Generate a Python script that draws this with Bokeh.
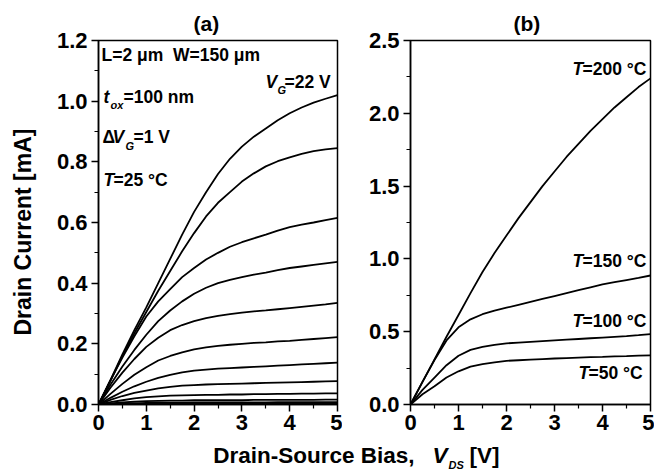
from bokeh.plotting import figure
from bokeh.models import Label, FixedTicker, PrintfTickFormatter, Range1d
from bokeh.layouts import column, row
from bokeh.embed import file_html
from bokeh.resources import INLINE

# ---------------- data ----------------
vds = [0, 0.25, 0.5, 0.75, 1, 1.25, 1.5, 1.75, 2, 2.25, 2.5, 2.75, 3, 3.25, 3.5, 3.75, 4, 4.25, 4.5, 4.75, 5]

# panel (a): output curves at T=25 C, V_G stepped by 1 V (top = 22 V)
id_a1 = [0, 0.080, 0.165, 0.245, 0.320, 0.400, 0.480, 0.560, 0.635, 0.700, 0.760, 0.810, 0.850, 0.883, 0.910, 0.937, 0.960, 0.979, 0.995, 1.008, 1.020]
id_a2 = [0, 0.078, 0.160, 0.235, 0.305, 0.375, 0.440, 0.505, 0.565, 0.620, 0.665, 0.700, 0.735, 0.762, 0.785, 0.802, 0.815, 0.826, 0.835, 0.841, 0.845]
id_a3 = [0, 0.080, 0.155, 0.225, 0.290, 0.340, 0.380, 0.420, 0.450, 0.478, 0.500, 0.520, 0.535, 0.548, 0.560, 0.573, 0.585, 0.593, 0.600, 0.608, 0.615]
id_a4 = [0, 0.065, 0.125, 0.180, 0.230, 0.275, 0.310, 0.340, 0.365, 0.385, 0.400, 0.411, 0.420, 0.428, 0.435, 0.443, 0.450, 0.455, 0.460, 0.465, 0.470]
id_a5 = [0, 0.055, 0.105, 0.150, 0.190, 0.220, 0.245, 0.262, 0.275, 0.285, 0.292, 0.298, 0.303, 0.307, 0.310, 0.314, 0.318, 0.322, 0.326, 0.330, 0.335]
id_a6 = [0, 0.035, 0.068, 0.098, 0.123, 0.145, 0.160, 0.172, 0.182, 0.188, 0.193, 0.197, 0.200, 0.203, 0.205, 0.208, 0.210, 0.213, 0.216, 0.219, 0.222]
id_a7 = [0, 0.022, 0.042, 0.060, 0.075, 0.088, 0.098, 0.106, 0.112, 0.115, 0.118, 0.120, 0.122, 0.124, 0.126, 0.128, 0.130, 0.132, 0.134, 0.136, 0.138]
id_a8 = [0, 0.015, 0.028, 0.038, 0.046, 0.053, 0.058, 0.062, 0.064, 0.066, 0.067, 0.068, 0.069, 0.070, 0.071, 0.072, 0.073, 0.074, 0.075, 0.076, 0.077]
id_a9 = [0, 0.008, 0.014, 0.020, 0.024, 0.027, 0.029, 0.030, 0.031, 0.032, 0.032, 0.033, 0.033, 0.034, 0.034, 0.035, 0.035, 0.036, 0.036, 0.037, 0.037]
id_a10 = [0, 0.004, 0.007, 0.009, 0.011, 0.012, 0.013, 0.013, 0.014, 0.014, 0.014, 0.014, 0.014, 0.015, 0.015, 0.015, 0.015, 0.015, 0.015, 0.016, 0.016]
id_a11 = [0, 0.002, 0.003, 0.004, 0.005, 0.006, 0.006, 0.006, 0.007, 0.007, 0.007, 0.007, 0.007, 0.007, 0.007, 0.008, 0.008, 0.008, 0.008, 0.008, 0.008]
id_a12 = [0, 0.001, 0.001, 0.002, 0.002, 0.002, 0.003, 0.003, 0.003, 0.003, 0.003, 0.003, 0.003, 0.003, 0.003, 0.003, 0.003, 0.003, 0.003, 0.003, 0.003]
curves_a = [id_a1, id_a2, id_a3, id_a4, id_a5, id_a6, id_a7, id_a8, id_a9, id_a10, id_a11, id_a12]

# panel (b): temperature dependence
id_t200 = [0, 0.155, 0.310, 0.465, 0.615, 0.765, 0.910, 1.040, 1.160, 1.280, 1.390, 1.500, 1.600, 1.700, 1.790, 1.880, 1.960, 2.040, 2.110, 2.180, 2.240]
id_t150 = [0, 0.155, 0.305, 0.440, 0.530, 0.585, 0.620, 0.645, 0.665, 0.685, 0.705, 0.725, 0.745, 0.765, 0.785, 0.805, 0.825, 0.840, 0.855, 0.870, 0.886]
id_t100 = [0, 0.100, 0.185, 0.270, 0.335, 0.375, 0.395, 0.410, 0.420, 0.425, 0.430, 0.435, 0.440, 0.445, 0.450, 0.455, 0.460, 0.465, 0.470, 0.476, 0.483]
id_t50 = [0, 0.070, 0.125, 0.185, 0.228, 0.260, 0.278, 0.290, 0.300, 0.304, 0.308, 0.312, 0.316, 0.319, 0.322, 0.325, 0.327, 0.330, 0.332, 0.335, 0.337]
curves_b = [id_t200, id_t150, id_t100, id_t50]

x_ticks = [0, 1, 2, 3, 4, 5]
x_minor = [0.5, 1.5, 2.5, 3.5, 4.5]
ya_ticks = [0.0, 0.2, 0.4, 0.6, 0.8, 1.0, 1.2]
ya_minor = [0.1, 0.3, 0.5, 0.7, 0.9, 1.1]
yb_ticks = [0.0, 0.5, 1.0, 1.5, 2.0, 2.5]
yb_minor = [0.25, 0.75, 1.25, 1.75, 2.25]

FONT = "Liberation Sans"
TICK_SIZE = "22px"
ANN_SIZE = "17.5px"
SUB_SIZE = "11px"
NB = "\u00a0"


def style_axes(p, yt, ym, yfmt):
    p.grid.visible = False
    p.outline_line_color = "black"
    p.outline_line_width = 1.5
    p.outline_line_alpha = 1.0
    p.background_fill_color = "white"
    p.border_fill_color = "white"
    p.xaxis.ticker = FixedTicker(ticks=x_ticks, minor_ticks=x_minor)
    p.yaxis.ticker = FixedTicker(ticks=yt, minor_ticks=ym)
    p.xaxis.formatter = PrintfTickFormatter(format="%d")
    p.yaxis.formatter = PrintfTickFormatter(format=yfmt)
    for ax in (p.xaxis, p.yaxis):
        ax.axis_line_width = 1.5
        ax.axis_line_color = "black"
        ax.major_tick_in = 0
        ax.major_tick_out = 7
        ax.minor_tick_in = 0
        ax.minor_tick_out = 4
        ax.major_tick_line_width = 1.5
        ax.minor_tick_line_width = 1.2
        ax.major_tick_line_color = "black"
        ax.minor_tick_line_color = "black"
        ax.major_label_text_font = FONT
        ax.major_label_text_font_style = "bold"
        ax.major_label_text_font_size = TICK_SIZE
        ax.major_label_text_color = "black"
    p.xaxis.major_label_standoff = 3
    p.yaxis.major_label_standoff = 4


def set_title(p, s, offset):
    p.title.text = s
    p.title.align = "left"
    p.title.text_font = FONT
    p.title.text_font_style = "bold"
    p.title.text_font_size = "21px"
    p.title.text_color = "black"
    p.title.offset = offset
    p.title.standoff = 11


def txt(p, xd, yd, s, size=ANN_SIZE, style="bold", align="left"):
    p.add_layout(Label(x=xd, y=yd, text=s, text_font=FONT, text_font_style=style,
                       text_font_size=size, text_color="black", text_align=align,
                       text_baseline="middle"))


# ---------------- panel (a) ----------------
p1 = figure(width=342, height=440, output_backend="svg", toolbar_location=None,
            x_range=Range1d(0, 5), y_range=Range1d(0, 1.2),
            min_border_left=98, min_border_right=5, min_border_top=40, min_border_bottom=36)
style_axes(p1, ya_ticks, ya_minor, "%.1f")
set_title(p1, "(a)", 95)
p1.yaxis.axis_label = "Drain Current [mA]" + NB * 3
p1.yaxis.axis_label_text_font = FONT
p1.yaxis.axis_label_text_font_style = "bold"
p1.yaxis.axis_label_text_font_size = "23px"
p1.yaxis.axis_label_text_color = "black"
p1.yaxis.axis_label_standoff = 18

for c in curves_a:
    p1.line(vds, c, line_color="black", line_width=1.8)


def pa(px, py):
    return (px - 98) / 47.8, (404 - py) / 303.3


txt(p1, *pa(101, 55), "L=2 μm" + NB + NB + "W=150 μm")
txt(p1, *pa(103, 97), "t", style="bold italic")
txt(p1, *pa(110, 105), "ox", size=SUB_SIZE, style="bold italic")
txt(p1, *pa(123, 97), "=100 nm")
txt(p1, *pa(102, 137), "Δ")
txt(p1, *pa(112, 137), "V", style="bold italic")
txt(p1, *pa(125, 146), "G", size=SUB_SIZE, style="bold italic")
txt(p1, *pa(133, 137), "=1 V")
txt(p1, *pa(103, 180), "T", style="bold italic")
txt(p1, *pa(113, 180), "=25 °C")
txt(p1, *pa(265, 82), "V", style="bold italic")
txt(p1, *pa(277, 90), "G", size=SUB_SIZE, style="bold italic")
txt(p1, *pa(284, 82), "=22 V")

# ---------------- panel (b) ----------------
p2 = figure(width=312, height=440, output_backend="svg", toolbar_location=None,
            x_range=Range1d(0, 5), y_range=Range1d(0, 2.5),
            min_border_left=68, min_border_right=4, min_border_top=40, min_border_bottom=36)
style_axes(p2, yb_ticks, yb_minor, "%.1f")
set_title(p2, "(b)", 103)

for c in curves_b:
    p2.line(vds, c, line_color="black", line_width=1.8)


def pb(px, py):
    return (px - 410) / 48.0, (404 - py) / 145.6


for ty, lab, tx in [(68, "=200 °C", 572), (260, "=150 °C", 572), (320, "=100 °C", 572), (372, "=50 °C", 578)]:
    txt(p2, *pb(tx, ty), "T", style="bold italic")
    txt(p2, *pb(tx + 10, ty), lab)

# ---------------- shared x-axis title ----------------
p3 = figure(width=654, height=33, output_backend="svg", toolbar_location=None,
            x_range=Range1d(0, 654), y_range=Range1d(0, 33),
            x_axis_type=None, y_axis_type=None, min_border=0)
p3.outline_line_color = None
p3.grid.visible = False


def pc(px, py):
    return px, 473 - py


txt(p3, *pc(414, 455), "Drain-Source Bias,", size="22.5px", align="right")
txt(p3, *pc(432, 455), "V", size="22.5px", style="bold italic")
txt(p3, *pc(448, 464), "DS", size="11px", style="bold italic")
txt(p3, *pc(469, 455), "[V]", size="22.5px")

layout = column(row(p1, p2), p3)
open("out.html", "w").write(file_html(layout, INLINE))
